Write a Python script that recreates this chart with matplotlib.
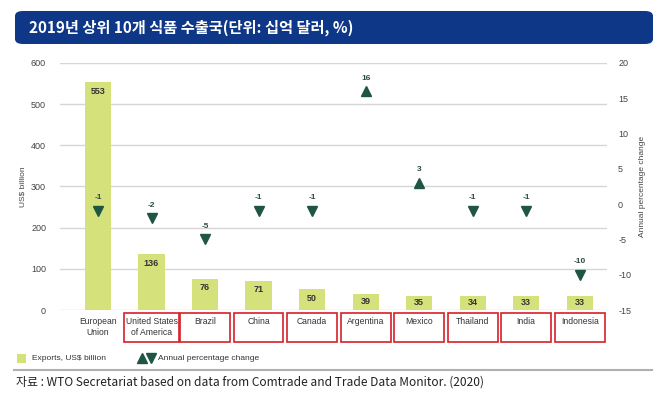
import matplotlib
matplotlib.use("Agg")
import matplotlib.pyplot as plt
from matplotlib.patches import FancyBboxPatch, Rectangle
from matplotlib.lines import Line2D

countries = ["European\nUnion", "United States\nof America", "Brazil", "China", "Canada",
             "Argentina", "Mexico", "Thailand", "India", "Indonesia"]
exports = [553, 136, 76, 71, 50, 39, 35, 34, 33, 33]
pct_change = [-1, -2, -5, -1, -1, 16, 3, -1, -1, -10]
boxed = [False, True, True, True, True, True, True, True, True, True]

title = "2019년 상위 10개 식품 수출국(단위: 십억 달러, %)"
source = "자료 : WTO Secretariat based on data from Comtrade and Trade Data Monitor. (2020)"

W, H = 670, 415
BAR = "#d5e17a"
TRI = "#1f5643"
KR = ["Noto Sans CJK KR", "DejaVu Sans"]
NARROW = ["Liberation Sans Narrow", "Liberation Sans", "DejaVu Sans"]

plt.rcParams["font.family"] = NARROW
plt.rcParams["axes.unicode_minus"] = False

fig = plt.figure(figsize=(W / 100, H / 100), dpi=100)


def fx(px):
    return px / W


def fy(py):
    return 1 - py / H


# title banner
fig.patches.append(FancyBboxPatch((fx(15), fy(44)), fx(638), (44 - 11) / H,
                                  boxstyle="round,pad=0,rounding_size=0.012",
                                  transform=fig.transFigure, facecolor="#0e3787",
                                  edgecolor="none"))
fig.text(fx(29), fy(28), title, color="white", fontsize=11, fontweight="bold",
         family=KR, va="center", ha="left")

ax = fig.add_axes([fx(60), 105 / H, fx(547), 247 / H])
x = list(range(len(countries)))
ax.bar(x, exports, width=0.49, color=BAR, zorder=2)
ax.set_xlim(-0.71, 9.51)
ax.set_ylim(0, 600)
ax.set_yticks(range(0, 601, 100))
ax.grid(axis="y", color="#d6d6d6", lw=1, zorder=0)
for s in ax.spines.values():
    s.set_visible(False)
ax.tick_params(axis="y", length=0, labelsize=6.5, labelcolor="#444444", pad=10)
ax.set_xticks([])
ax.set_ylabel("US$ billion", fontsize=6, color="#444444", va="center")
ax.yaxis.set_label_coords(-0.068, 0.5)

for i, v in enumerate(exports):
    ax.text(i, v - min(22, v * 0.45), str(v), ha="center", va="center",
            fontsize=6.5, fontweight="bold", color="#333333", zorder=3)

ax2 = ax.twinx()
ax2.set_ylim(-15, 20)
ax2.set_yticks(range(-15, 21, 5))
for s in ax2.spines.values():
    s.set_visible(False)
ax2.tick_params(axis="y", length=0, labelsize=6.5, labelcolor="#444444", pad=8)
ax2.set_ylabel("Annual percentage change", fontsize=6, color="#444444", va="center")
ax2.yaxis.set_label_coords(1.064, 0.5)

for i, p in enumerate(pct_change):
    ax2.plot(i, p, marker="^" if p > 0 else "v", color=TRI, markersize=6.5,
             linestyle="none", zorder=4)
    ax2.annotate(str(p), (i, p), xytext=(0, 7), textcoords="offset points",
                 ha="center", va="bottom", fontsize=6, fontweight="bold",
                 color="#2e4a40")

# category labels with red boxes
for i, name in enumerate(countries):
    xf = ax.transData.transform((i, 0))[0] / W
    fig.text(xf, fy(317), name, ha="center", va="top", fontsize=6.2,
             color="#333333", linespacing=1.3)
    if boxed[i]:
        bw = 1.02 if "\n" in name else 0.93
        left = ax.transData.transform((i - bw / 2, 0))[0] / W
        right = ax.transData.transform((i + bw / 2, 0))[0] / W
        fig.patches.append(Rectangle((left, fy(342)), right - left, 29 / H,
                                     transform=fig.transFigure, fill=False,
                                     edgecolor="#d42027", lw=1.2))

# legend
fig.patches.append(Rectangle((fx(17), fy(363)), fx(9), 9 / H,
                             transform=fig.transFigure, facecolor=BAR, edgecolor="none"))
fig.text(fx(32), fy(358.5), "Exports, US$ billion", fontsize=6, color="#333333", va="center")
fig.add_artist(Line2D([fx(142)], [fy(358)], marker="^", color=TRI, markersize=6.5,
                      transform=fig.transFigure))
fig.add_artist(Line2D([fx(151)], [fy(358)], marker="v", color=TRI, markersize=6.5,
                      transform=fig.transFigure))
fig.text(fx(158), fy(358.5), "Annual percentage change", fontsize=6, color="#333333", va="center")

# separator and source
fig.add_artist(Line2D([fx(14), fx(652)], [fy(370), fy(370)], color="#b0b0b0", lw=1.5,
                      transform=fig.transFigure))
fig.text(fx(16), fy(382), source, fontsize=8.6, family=KR, color="#222222", va="center")

fig.savefig("out.png", dpi=100)
